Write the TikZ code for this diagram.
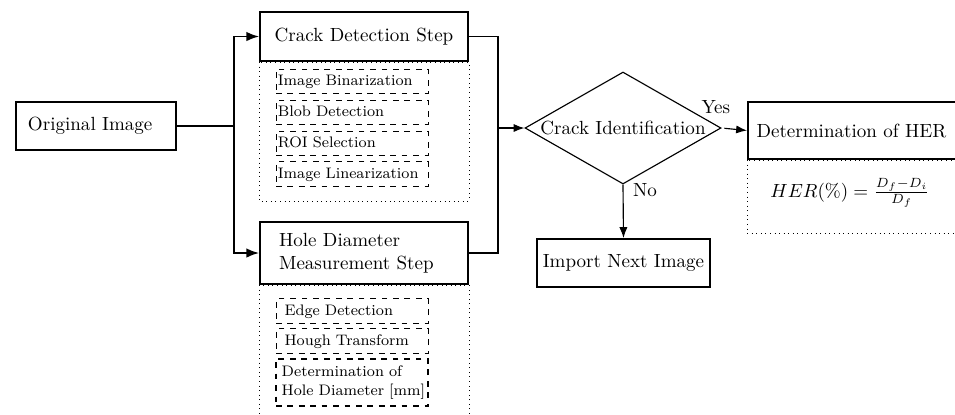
\documentclass[tikz,border=0pt]{standalone}
\usetikzlibrary{arrows.meta, positioning, shapes.geometric, calc}

\begin{document}
\begin{tikzpicture}[x=0.525pt,y=-0.525pt,
  box/.style={draw,line width=1pt,align=center,inner sep=2pt},
  subbase/.style={draw,dashed,font=\footnotesize,align=left,inner ysep=2.5pt},
  sub/.style={subbase,inner xsep=1pt,text width=77.8pt,text height=6pt,text depth=1.8pt},
  subh/.style={sub,inner xsep=4.5pt,text width=70.8pt},
  frame/.style={draw,dotted},
  decision/.style={draw,semithick,diamond,aspect=1.75,inner sep=0pt,
                   minimum width=102.9pt,minimum height=58.8pt},
  lbl/.style={inner sep=0pt},
  line/.style={semithick},
  arr/.style={-{Latex},semithick}
]
\path[use as bounding box] (0,0) rectangle (955,414);
\clip (0,0) rectangle (955,414);

% left column
\node[box,align=left,inner xsep=6.3pt,text width=71.4pt,minimum height=25.2pt] (orig) at (96,126) {Original Image};
\node[box,minimum width=109.2pt,minimum height=25.7pt] (crack) at (364,36.5) {Crack Detection Step};
\node[sub] (bin)  at (352,81.5)  {Image Binarization};
\node[sub] (blob) at (352,112.5) {Blob Detection};
\node[sub] (roi)  at (352,143.5) {ROI Selection};
\node[sub] (lin)  at (352,174)   {Image Linearization};
\draw[frame] (crack.south west) rectangle ($(crack.south east)+(0,139)$);

\node[box,align=left,inner xsep=10pt,text width=89.2pt,minimum height=32.6pt] (hole) at (364,253) {Hole Diameter\\Measurement Step};
\node[subh] (edge)  at (352,311) {Edge Detection};
\node[subh] (hough) at (352,341) {Hough Transform};
\node[subbase,thick,inner xsep=3pt,text width=73.8pt,minimum height=24.7pt] (diam) at (352,382.5) {Determination of\\\mbox{Hole Diameter [mm]}};
\draw[frame] (hole.south west) rectangle ($(hole.south east)+(0,140)$);

% decision and results
\node[decision] (ident) at (623,128) {Crack Identification};
\node[box,minimum width=90.8pt,minimum height=25.2pt] (next) at (623.5,263) {Import Next Image};
\node[box,align=left,inner xsep=4.5pt,text width=101.3pt,minimum height=29.9pt] (her) at (853,130.5) {Determination of HER};
\draw[frame] (her.south west) rectangle ($(her.south east)+(0,73)$);
\node (formula) at (850,193) {$HER(\%) = \frac{D_f - D_i}{D_f}$};

% connectors
\coordinate (split) at (234,126);
\coordinate (merge) at (498,128);
\draw[line] (orig.east) -- (split);
\draw[arr,thick] (split) |- (crack.west);
\draw[arr,thick] (split) |- (hole.west);
\draw[line] (crack.east) -| (merge);
\draw[line] (hole.east) -| (merge);
\draw[arr] (merge) -- (ident.west);
\draw[arr,shorten <=1.5pt] (ident.east) -- node[lbl,at start,anchor=base,xshift=-3pt,yshift=7.5pt] {Yes} (her.west);
\draw[arr] (ident.south) -- node[lbl,at start,anchor=base west,xshift=5pt,yshift=-6.5pt] {No} (next.north);
\end{tikzpicture}
\end{document}
